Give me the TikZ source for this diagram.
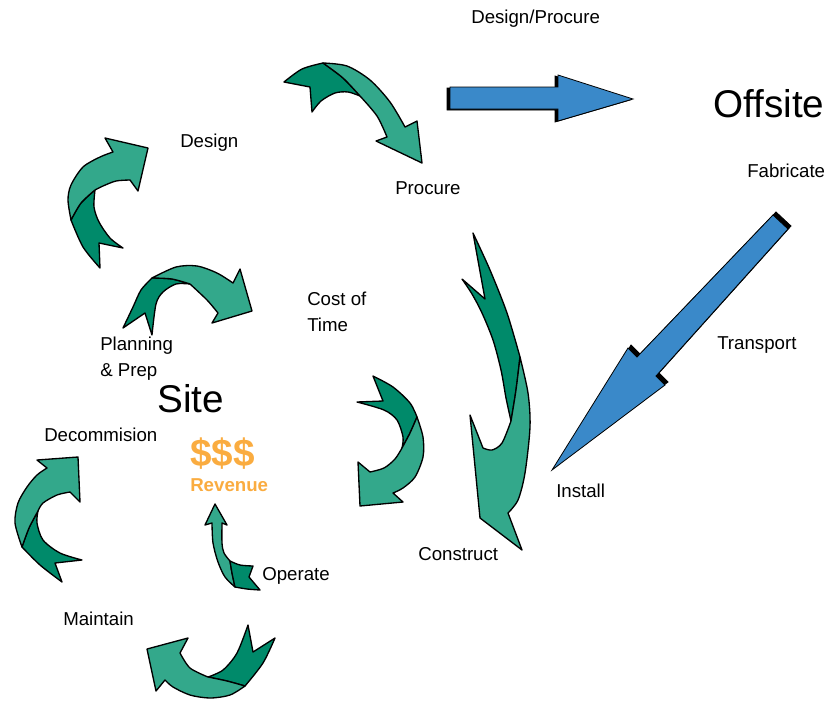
\documentclass[tikz,border=0pt]{standalone}
\usepackage{fontspec}
\setmainfont{Liberation Sans}
\definecolor{dkgreen}{RGB}{0,138,106}
\definecolor{ltgreen}{RGB}{51,168,139}
\definecolor{flowblue}{RGB}{58,137,201}
\definecolor{cashorange}{RGB}{250,172,64}
\begin{document}
\begin{tikzpicture}[x=0.75pt,y=-0.75pt,
  dkpart/.style={fill=dkgreen,draw=black,line width=1pt,line join=round},
  ltpart/.style={fill=ltgreen,draw=black,line width=1pt,line join=round},
  bluebody/.style={fill=flowblue,draw=black,line width=0.6pt,line join=miter},
  blueshade/.style={fill=black,draw=black,line width=0.6pt},
  lbl/.style={font=\fontsize{14}{19.5}\selectfont,inner sep=0pt,anchor=base west,align=left},
  biglbl/.style={font=\fontsize{29}{32}\selectfont,inner sep=0pt,anchor=base west},
  cash/.style={text=cashorange,inner sep=0pt,anchor=base west}]
\useasboundingbox (0,0) rectangle (827,704);

% ---- curved arrow: Design -> Procure
\filldraw[dkpart] (284,82) -- plot[smooth] coordinates {(284,82) (302,69) (323,63)}
  -- plot[smooth] coordinates {(323,63) (343,78) (360,96)}
  -- plot[smooth] coordinates {(360,96) (348,92) (335,93) (321,101) (312,112)}
  -- (310,87) -- cycle;
\filldraw[ltpart] (323,63) -- plot[smooth] coordinates {(323,63) (347,66) (370,80) (390,102) (405,127)}
  -- (417,121) -- (422,163) -- (376,141) -- (387,137)
  -- plot[smooth] coordinates {(387,137) (377,116) (360,96)}
  -- plot[smooth] coordinates {(360,96) (343,78) (323,63)} -- cycle;

% ---- curved arrow: up to Design
\filldraw[dkpart] (100,268) -- (99,243) -- (123,248)
  -- plot[smooth] coordinates {(123,248) (110,238) (99,222) (94,207) (95,190)}
  -- plot[smooth] coordinates {(95,190) (81,203) (71,220)}
  -- plot[smooth] coordinates {(71,220) (83,247) (100,268)} -- cycle;
\filldraw[ltpart] (71,220) -- plot[smooth] coordinates {(71,220) (68,200) (71,185) (83,167) (100,157) (113,152)}
  -- (105,138) -- (148,148) -- (138,191) -- (130,180)
  -- plot[smooth] coordinates {(130,180) (116,181) (103,186) (95,190)}
  -- plot[smooth] coordinates {(95,190) (81,203) (71,220)} -- cycle;

% ---- curved arrow: Planning -> Cost of Time
\filldraw[dkpart] (123,328) -- (145,313) -- (152,335)
  -- plot[smooth] coordinates {(152,335) (156,304) (163,292) (176,284) (190,284)}
  -- plot[smooth] coordinates {(190,284) (172,279) (152,278)}
  -- plot[smooth] coordinates {(152,278) (141,290) (133,307) (123,328)} -- cycle;
\filldraw[ltpart] (152,278) -- plot[smooth] coordinates {(152,278) (176,267) (197,266) (217,273) (233,283)}
  -- (240,269) -- (252,311) -- (212,323) -- (218,313)
  -- plot[smooth] coordinates {(218,313) (207,300) (190,284)}
  -- plot[smooth] coordinates {(190,284) (172,279) (152,278)} -- cycle;

% ---- curved arrow: Cost of Time -> down
\filldraw[dkpart] (357,402) -- (383,401) -- (373,376)
  -- plot[smooth] coordinates {(373,376) (393,387) (410,403) (417,417)}
  -- plot[smooth] coordinates {(417,417) (410,433) (402,448)}
  -- plot[smooth] coordinates {(402,448) (403,437) (397,420) (384,410) (357,402)} -- cycle;
\filldraw[ltpart] (417,417) -- plot[smooth] coordinates {(417,417) (423,437) (423,457) (415,477) (403,488) (393,493)}
  -- (403,502) -- (360,506) -- (358,462) -- (370,472)
  -- plot[smooth] coordinates {(370,472) (384,468) (395,459) (402,448)}
  -- plot[smooth] coordinates {(402,448) (410,433) (417,417)} -- cycle;

% ---- curved arrow: Procure -> Construct
\filldraw[dkpart] (462,279) -- (485,299) -- (473,233)
  -- plot[smooth] coordinates {(473,233) (490,270) (507,313) (520,357)}
  -- plot[smooth] coordinates {(520,357) (516,390) (511,421)}
  -- plot[smooth] coordinates {(511,421) (506,398) (501,370) (493,340) (482,313) (472,294) (462,279)} -- cycle;
\filldraw[ltpart] (520,357) -- plot[smooth] coordinates {(520,357) (528,393) (530,427) (525,473) (518,500) (508,513)}
  -- (522,550) -- (480,518) -- (470,415) -- (483,448)
  -- plot[smooth] coordinates {(483,448) (492,450) (502,443) (511,421)}
  -- plot[smooth] coordinates {(511,421) (516,390) (520,357)} -- cycle;

% ---- curved arrow: up to Decommision
\filldraw[dkpart] (62,582) -- (55,563) -- (82,560)
  -- plot[smooth] coordinates {(82,560) (60,553) (43,540) (37,523) (38,511)}
  -- plot[smooth] coordinates {(38,511) (29,528) (22,547)}
  -- plot[smooth] coordinates {(22,547) (40,565) (62,582)} -- cycle;
\filldraw[ltpart] (22,547) -- plot[smooth] coordinates {(22,547) (15,523) (18,503) (27,487) (37,475) (47,468)}
  -- (37,460) -- (78,457) -- (80,502) -- (70,492)
  -- plot[smooth] coordinates {(70,492) (57,495) (43,503) (38,511)}
  -- plot[smooth] coordinates {(38,511) (29,528) (22,547)} -- cycle;

% ---- curved arrow: towards Maintain
\filldraw[dkpart] (248,625) -- (253,652) -- (275,638)
  -- plot[smooth] coordinates {(275,638) (263,663) (245,686)}
  -- plot[smooth] coordinates {(245,686) (227,681) (208,677)}
  -- plot[smooth] coordinates {(208,677) (223,670) (237,653) (248,625)} -- cycle;
\filldraw[ltpart] (208,677) -- plot[smooth] coordinates {(208,677) (190,668) (180,653)}
  -- (188,638) -- (147,649) -- (156,691) -- (165,680)
  -- plot[smooth] coordinates {(165,680) (173,687) (190,695) (210,698) (230,695) (245,686)}
  -- plot[smooth] coordinates {(245,686) (227,681) (208,677)} -- cycle;

% ---- small arrow: Operate -> Revenue
\filldraw[ltpart] (212,523) -- (205,525) -- (215,504) -- (227,525) -- (222,523)
  -- plot[smooth] coordinates {(222,523) (222,543) (224,553) (230,561)}
  -- plot[smooth] coordinates {(230,561) (232,573) (235,587)}
  -- plot[smooth] coordinates {(235,587) (225,577) (218,562) (213,543) (212,523)} -- cycle;
\filldraw[dkpart] (230,561) -- plot[smooth] coordinates {(230,561) (240,565) (253,566)}
  -- (249,577) -- (260,590)
  -- plot[smooth] coordinates {(260,590) (247,589) (235,587)}
  -- plot[smooth] coordinates {(235,587) (232,573) (230,561)} -- cycle;

% ---- block arrow: Design/Procure -> Offsite
\filldraw[blueshade,shift={(-3,1)}] (450,87) -- (558,87) -- (558,75) -- (633,99) -- (558,121) -- (558,109) -- (450,109) -- cycle;
\filldraw[bluebody] (450,87) -- (558,87) -- (558,75) -- (633,99) -- (558,121) -- (558,109) -- (450,109) -- cycle;

% ---- block arrow: Transport to Install
\filldraw[blueshade,shift={(3,-3)}] (773,215) -- (637,357) -- (628,348) -- (552,470) -- (665,385) -- (656,376) -- (788,229) -- cycle;
\filldraw[bluebody] (773,215) -- (637,357) -- (628,348) -- (552,470) -- (665,385) -- (656,376) -- (788,229) -- cycle;

% ---- labels
\node[lbl] (desproc) at (471,23) {Design/Procure};
\node[biglbl] (offsite) at (713,117) {Offsite};
\node[lbl] (design) at (180,147) {Design};
\node[lbl] (procure) at (395,194) {Procure};
\node[lbl] (fabricate) at (747,177) {Fabricate};
\node[lbl,anchor=north west] (costtime) at (307,292) {Cost of\\Time};
\node[lbl,anchor=north west] (planning) at (100,337) {Planning\\\& Prep};
\node[biglbl] (site) at (157,412) {Site};
\node[lbl] (transport) at (717,349) {Transport};
\node[lbl] (decom) at (44,441) {Decommision};
\node[cash,font=\fontsize{29}{32}\bfseries] (dollars) at (190,466) {\$\$\$};
\node[cash,font=\fontsize{14}{16}\bfseries] (revenue) at (190,491) {Revenue};
\node[lbl] (install) at (556,497) {Install};
\node[lbl] (construct) at (418,560) {Construct};
\node[lbl] (operate) at (262,580) {Operate};
\node[lbl] (maintain) at (63,625) {Maintain};
\end{tikzpicture}
\end{document}
